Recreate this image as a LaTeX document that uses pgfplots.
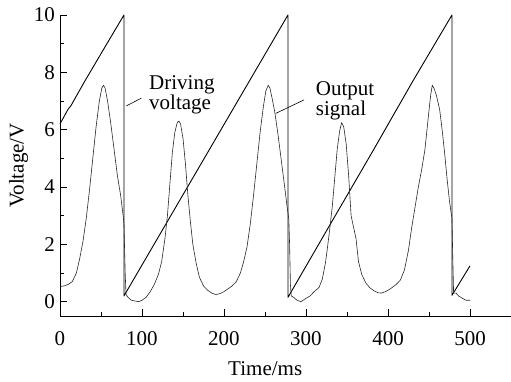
\documentclass[border=0pt]{standalone}
\usepackage{fontspec}
\setmainfont{Liberation Serif}
\usepackage{pgfplots}
\usepackage{pgfplotstable}
\pgfplotsset{compat=1.18}
\pgfplotstableread{
t v
0 6.20
10 6.72
13 6.82
30 7.68
50 8.65
78 10.0
78 0.20
130 2.75
180 5.20
230 7.65
278 10.0
278 0.15
330 2.72
380 5.18
430 7.68
478 10.0
478 0.22
500 1.25
}\drive
\pgfplotstableread{
t v
0 0.53
5 0.55
10 0.6
15 0.7
20 1.0
24 1.5
28 2.1
32 2.9
36 3.9
40 5.0
44 6.1
48 7.0
51 7.45
53 7.55
55 7.45
58 7.0
62 6.2
66 5.3
70 4.4
74 3.7
77 3.0
78 2.7
79.5 1.0
80.5 0.25
83 0.15
87 0.05
92 0.02
96 0.0
100 0.05
105 0.15
110 0.35
115 0.6
120 0.95
124 1.4
128 2.2
131 3.0
134 4.1
137 5.2
140 5.9
143 6.25
145 6.3
147 6.2
150 5.7
153 4.8
156 3.7
159 2.8
162 2.0
166 1.35
170 0.85
175 0.55
180 0.4
185 0.3
190 0.25
195 0.28
200 0.35
205 0.45
210 0.55
215 0.7
220 1.0
224 1.4
228 1.9
232 2.7
236 3.7
240 4.8
244 5.9
248 6.8
251 7.35
254 7.55
256 7.45
259 7.05
262 6.6
266 5.8
270 4.9
274 4.0
277 3.3
279 2.9
280 2.0
281 0.6
282 0.2
285 0.15
289 0.05
294 0.0
299 0.1
305 0.2
310 0.35
316 0.5
320 0.8
324 1.4
328 2.3
332 3.3
335 4.3
338 5.3
341 5.95
343.5 6.25
346 6.1
349 5.5
352 4.4
355 3.0
358 2.6
361 2.2
364 1.4
368 0.95
373 0.65
378 0.48
383 0.38
388 0.31
392 0.3
397 0.35
403 0.45
410 0.6
415 0.75
420 1.1
425 1.8
429 2.6
433 3.3
437 4.0
441 4.6
445 5.3
449 6.4
452 7.2
454 7.55
456 7.45
459 7.2
463 6.7
466 6.0
469 5.2
472 4.3
475 3.5
478 2.9
479 1.5
480 0.3
483 0.3
486 0.2
490 0.13
495 0.05
500 0.05
}\outsig
\begin{document}
\fontsize{21}{21}\selectfont
\begin{tikzpicture}
\useasboundingbox (-60pt,-65pt) rectangle (451pt,316pt);
\begin{axis}[
  at={(0pt,0pt)}, anchor=south west,
  scale only axis, width=451pt, height=301pt,
  xmin=0, xmax=550, ymin=-0.5, ymax=10,
  axis x line*=bottom, axis y line*=left,
  axis line style={-, line width=0.8pt},
  xtick={0,100,...,500}, ytick={0,2,...,10},
  minor xtick={50,150,250,350,450}, minor ytick={1,3,5,7,9},
  tick align=inside, major tick length=7pt, minor tick length=4pt,
  tick style={line width=0.8pt, black},
  /pgf/number format/assume math mode=true,
  ticklabel style={font=\fontsize{21}{21}\selectfont},
  xticklabel style={yshift=-8pt},
  yticklabel style={xshift=2pt},
  xlabel={Time/ms}, ylabel={Voltage/V},
  every axis x label/.style={at={(axis description cs:0.455,0)}, anchor=north, inner sep=0pt, yshift=-45.6pt, font=\fontsize{21}{21}\selectfont},
  every axis y label/.style={at={(axis description cs:-0.092,0.5)}, rotate=90, anchor=center, font=\fontsize{21}{21}\selectfont},
  clip=false,
]
\addplot[black, line width=0.9pt, line join=round] table[x=t, y=v] {\drive};
\addplot[black!85, line width=0.6pt, line join=round] table[x=t, y=v] {\outsig};
\node[anchor=north west, inner sep=0pt, align=left, font=\fontsize{21}{20}\selectfont] at (axis cs:108.5,7.89) {Driving\\voltage};
\node[anchor=north west, inner sep=0pt, align=left, font=\fontsize{21}{20}\selectfont] at (axis cs:311.9,7.68) {Output\\signal};
\draw[black, line width=0.6pt] (axis cs:81,6.83) -- (axis cs:99.3,7.1);
\draw[black, line width=0.6pt] (axis cs:263.3,6.57) -- (axis cs:297.7,7.04);
\end{axis}
\end{tikzpicture}
\end{document}
